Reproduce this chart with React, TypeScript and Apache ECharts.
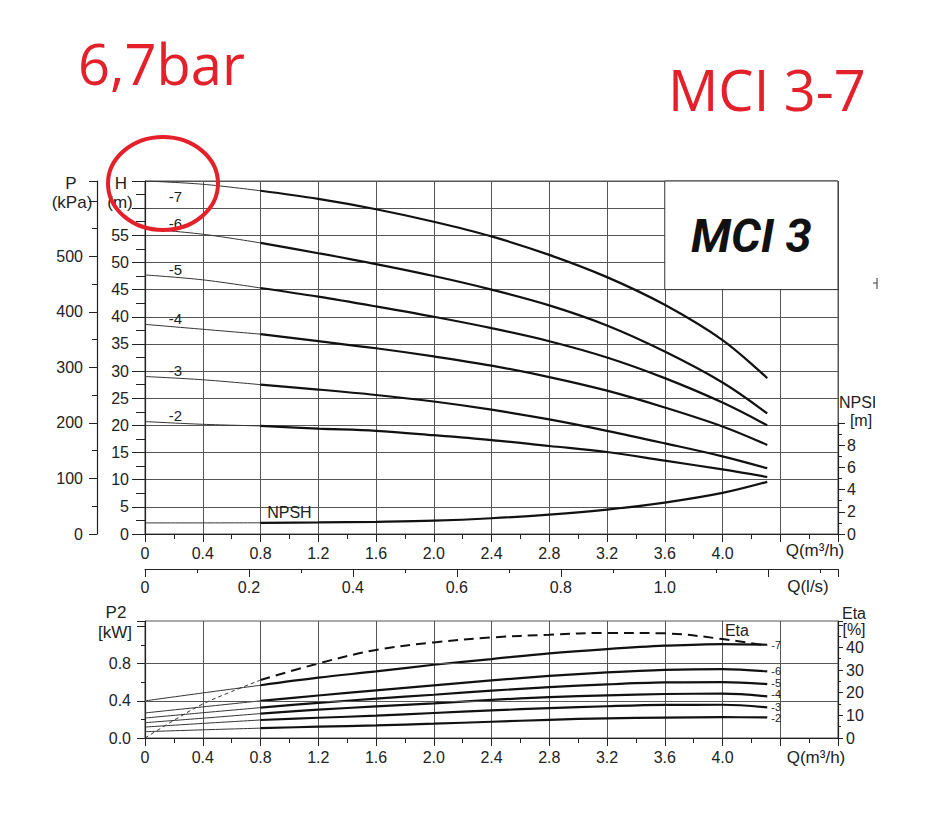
import React, { useEffect, useRef } from 'react';
import * as echarts from 'echarts';

// ---------- data ----------
const Q = [0, 0.4, 0.8, 1.2, 1.6, 2.0, 2.4, 2.8, 3.2, 3.6, 4.0, 4.31];
const THIN_END = 2; // index of Q = 0.8 (thin part before, thick after)
const STAGES = ['-2', '-3', '-4', '-5', '-6', '-7'];

const H_2 = [20.7, 20.2, 19.9, 19.4, 19.0, 18.2, 17.3, 16.2, 15.1, 13.5, 11.9, 10.5];
const H_3 = [29.0, 28.4, 27.5, 26.6, 25.6, 24.4, 22.9, 21.1, 19.0, 16.7, 14.3, 12.1];
const H_4 = [38.6, 37.7, 36.8, 35.5, 34.2, 32.7, 31.0, 28.9, 26.4, 23.3, 19.8, 16.4];
const H_5 = [47.7, 46.8, 45.3, 43.7, 41.9, 40.0, 37.9, 35.5, 32.5, 28.7, 24.2, 20.0];
const H_6 = [56.2, 55.2, 53.6, 51.7, 49.7, 47.5, 45.0, 42.1, 38.4, 33.6, 27.9, 22.2];
const H_7 = [65.0, 64.4, 63.2, 61.7, 59.8, 57.5, 54.8, 51.4, 47.3, 42.2, 35.7, 28.7];
const HEAD = [H_2, H_3, H_4, H_5, H_6, H_7];

const NPSH = [1.0, 1.0, 1.01, 1.04, 1.10, 1.20, 1.42, 1.75, 2.20, 2.83, 3.70, 4.70];

const P2_2 = [0.068, 0.088, 0.106, 0.122, 0.136, 0.154, 0.175, 0.196, 0.212, 0.219, 0.224, 0.222];
const P2_3 = [0.118, 0.157, 0.194, 0.218, 0.240, 0.269, 0.297, 0.322, 0.342, 0.356, 0.358, 0.329];
const P2_4 = [0.165, 0.213, 0.263, 0.305, 0.340, 0.373, 0.410, 0.440, 0.460, 0.474, 0.477, 0.448];
const P2_5 = [0.215, 0.272, 0.327, 0.378, 0.423, 0.466, 0.510, 0.547, 0.577, 0.598, 0.602, 0.581];
const P2_6 = [0.270, 0.335, 0.400, 0.458, 0.512, 0.566, 0.620, 0.668, 0.706, 0.733, 0.742, 0.717];
const P2_7 = [0.400, 0.485, 0.568, 0.650, 0.717, 0.789, 0.850, 0.912, 0.958, 0.994, 1.012, 1.004];
const POWER = [P2_2, P2_3, P2_4, P2_5, P2_6, P2_7];

const Q_ETA = [0, 0.2, 0.4, 0.6, 0.8, 1.2, 1.6, 2.0, 2.4, 2.8, 3.2, 3.6, 4.0, 4.31];
const ETA_THIN_END = 4;
const ETA = [0, 7.8, 15.0, 20.5, 25.6, 32.9, 38.9, 42.2, 44.4, 45.6, 46.4, 46.2, 43.7, 40.7];

const Q_LABELS = ['0', '0.4', '0.8', '1.2', '1.6', '2.0', '2.4', '2.8', '3.2', '3.6', '4.0'];
const LS_LABELS = ['0', '0.2', '0.4', '0.6', '0.8', '1.0'];
const H_LABELS = ['0', '5', '10', '15', '20', '25', '30', '35', '40', '45', '50', '55'];
const P_LABELS = ['0', '100', '200', '300', '400', '500'];
const NPSH_LABELS = ['0', '2', '4', '6', '8'];
const P2_LABELS = ['0.0', '0.4', '0.8'];
const ETA_LABELS = ['0', '10', '20', '30', '40'];
const P2_GRID = [0.4, 0.8];
const BOX_Q = [3.6, 4.8];
const BOX_H = [45, 65];

// ---------- helpers ----------
const FONT = '"Liberation Sans", Arial, sans-serif';
const AX = '#222';
const GRIDC = '#555';
const RED = '#e4202a';
const SMOOTH = 0.35;
const END_LABEL_DY: Record<string, number> = { '-2': 0.5, '-3': -0.5, '-4': -2.5, '-5': -1, '-6': 0, '-7': 0 };

const fmtQ = (v: number) => (Math.abs(v) < 1e-9 ? '0' : v.toFixed(1));
const pick = (labels: string[], s: string) => (labels.includes(s) ? s : '');

const interp = (xs: number[], ys: number[], x: number) => {
  for (let i = 0; i < xs.length - 1; i++) {
    if (x >= xs[i] && x <= xs[i + 1]) {
      const t = (x - xs[i]) / (xs[i + 1] - xs[i]);
      return ys[i] + t * (ys[i + 1] - ys[i]);
    }
  }
  return ys[ys.length - 1];
};

const label = (fontSize = 16) => ({ fontSize, color: AX, fontFamily: FONT });

const splitCurve = (
  name: string, xs: number[], ys: number[], split: number, xi: number, yi: number,
  thinStyle: any, thickStyle: any, extraThin: any = {}, extraThick: any = {}
) => [
  {
    type: 'line', name: name + ' (a)', xAxisIndex: xi, yAxisIndex: yi,
    data: xs.slice(0, split + 1).map((x, i) => [x, ys[i]]),
    symbol: 'none', smooth: SMOOTH, silent: true, lineStyle: thinStyle, ...extraThin,
  },
  {
    type: 'line', name, xAxisIndex: xi, yAxisIndex: yi,
    data: xs.slice(split).map((x, i) => [x, ys[split + i]]),
    symbol: 'none', smooth: SMOOTH, silent: true, lineStyle: thickStyle, ...extraThick,
  },
];

const THIN = { width: 1, color: '#333' };
const THICK = { width: 2.2, color: '#111' };

const xAxisBase = (gridIndex: number) => ({
  gridIndex, type: 'value', min: 0, max: 4.8, interval: 0.4,
  axisLine: { show: true, onZero: false, lineStyle: { color: AX, width: 1.2 } },
  axisTick: { show: true, length: 8, lineStyle: { color: AX } },
  minorTick: { show: true, splitNumber: 2, length: 5, lineStyle: { color: AX } },
  axisLabel: { ...label(), margin: 11, formatter: (v: number) => pick(Q_LABELS, fmtQ(v)) },
  splitLine: { show: true, lineStyle: { color: GRIDC, width: 1 } },
});

const yAxisBase = (gridIndex: number, position: string, min: number, max: number, interval: number,
  tick: number, minor: number, margin: number, labels: string[], fmt: (v: number) => string, extra: any = {}) => ({
  gridIndex, type: 'value', position, min, max, interval,
  axisLine: { show: true, onZero: false, lineStyle: { color: AX, width: 1.2 } },
  axisTick: { show: true, length: tick, lineStyle: { color: AX } },
  minorTick: { show: true, splitNumber: 2, length: minor, lineStyle: { color: AX } },
  axisLabel: { ...label(), margin, formatter: (v: number) => pick(labels, fmt(v)) },
  splitLine: { show: false },
  ...extra,
});

export default function App() {
  const ref = useRef<HTMLDivElement>(null);

  useEffect(() => {
    if (!ref.current) return;
    const chart = echarts.init(ref.current, null, { renderer: 'svg' });

    const series: any[] = [];
    // head curves
    HEAD.forEach((h, i) => {
      const extra = i === HEAD.length - 1 ? {
        markArea: {
          silent: true,
          itemStyle: { color: '#fff', borderColor: '#333', borderWidth: 1 },
          label: {
            show: true, position: 'inside', formatter: 'MCI 3', fontSize: 47,
            fontWeight: 'bold', fontStyle: 'italic', color: '#111', fontFamily: 'Roboto, "Open Sans", sans-serif',
          },
          data: [[{ coord: [BOX_Q[0], BOX_H[0]] }, { coord: [BOX_Q[1], BOX_H[1]] }]],
        },
      } : {};
      series.push(...splitCurve('H ' + STAGES[i], Q, h, THIN_END, 0, 0, THIN, THICK, {}, extra));
    });
    // NPSH
    series.push(...splitCurve('NPSH', Q, NPSH, THIN_END, 2, 2, THIN, THICK));
    // P2 curves
    POWER.forEach((p, i) => {
      const extraThin = i === 0 ? {
        markLine: {
          silent: true, symbol: 'none', label: { show: false },
          lineStyle: { color: GRIDC, width: 1, type: 'solid' },
          data: P2_GRID.map((v) => ({ yAxis: v })),
        },
      } : {};
      series.push(...splitCurve('P2 ' + STAGES[i], Q, p, THIN_END, 3, 3, THIN, THICK, extraThin, {
        endLabel: {
          show: true, formatter: STAGES[i], fontSize: 11, lineHeight: 10, color: AX, fontFamily: FONT,
          distance: 4, offset: [0, END_LABEL_DY[STAGES[i]]],
        },
      }));
    });
    // Eta
    series.push(...splitCurve('Eta', Q_ETA, ETA, ETA_THIN_END, 3, 4,
      { width: 1, color: '#333', type: [4, 3] }, { width: 2, color: '#111', type: [10, 6] }));

    const option: any = {
      animation: false,
      backgroundColor: '#fff',
      grid: [
        { left: 145, top: 181, width: 693, height: 353, show: true, borderColor: GRIDC, borderWidth: 1, containLabel: false, outerBoundsMode: 'none' },
        { left: 145, top: 423, width: 693, height: 111, containLabel: false, outerBoundsMode: 'none' },
        { left: 145, top: 621, width: 693, height: 117, show: true, borderColor: GRIDC, borderWidth: 1, containLabel: false, outerBoundsMode: 'none' },
      ],
      xAxis: [
        xAxisBase(0),
        {
          gridIndex: 0, type: 'value', position: 'bottom', offset: 35, min: 0, max: 4.8 / 3.6, interval: 0.2,
          axisLine: { show: true, onZero: false, lineStyle: { color: AX, width: 1.2 } },
          axisTick: { show: true, length: 8, lineStyle: { color: AX } },
          minorTick: { show: true, splitNumber: 2, length: 4, lineStyle: { color: AX } },
          axisLabel: { ...label(), margin: 10, formatter: (v: number) => pick(LS_LABELS, fmtQ(v)) },
          splitLine: { show: false },
        },
        { gridIndex: 1, type: 'value', min: 0, max: 4.8, show: false },
        xAxisBase(2),
      ],
      yAxis: [
        yAxisBase(0, 'left', 0, 65, 5, 13, 9, 16, H_LABELS, (v) => String(v),
          { splitLine: { show: true, lineStyle: { color: GRIDC, width: 1 } } }),
        yAxisBase(0, 'left', 0, 635.6, 100, 8, 5, 14, P_LABELS, (v) => String(v), { offset: 48 }),
        yAxisBase(1, 'right', 0, 10, 2, 7, 4, 9, NPSH_LABELS, (v) => String(v)),
        yAxisBase(2, 'left', 0, 1.26, 0.4, 8, 4, 14, P2_LABELS, (v) => v.toFixed(1)),
        yAxisBase(2, 'right', 0, 51.66, 10, 5, 3, 8, ETA_LABELS, (v) => String(v)),
      ],
      series,
    };
    chart.setOption(option);

    const px = (finder: any, pt: number[]) => chart.convertToPixel(finder, pt) as unknown as number[];
    const txt = (text: string, x: number, y: number, size = 17, align = 'center', extra: any = {}) => ({
      type: 'text', x, y, z: 100,
      style: {
        text, fill: AX, fontSize: size, fontFamily: FONT,
        align, textAlign: align, verticalAlign: 'middle', textVerticalAlign: 'middle', ...extra,
      },
    });

    const graphics: any[] = [
      txt('6,7bar', 78, 63, 56, 'left', { fill: RED, fontFamily: '"Open Sans", sans-serif' }),
      txt('MCI 3-7', 668, 89, 56, 'left', { fill: RED, fontFamily: '"Open Sans", sans-serif' }),
      {
        type: 'ellipse', z: 110, shape: { cx: 163, cy: 183.5, rx: 55, ry: 46.5 },
        style: { fill: 'none', stroke: RED, lineWidth: 4 },
      },
      txt('P', 71, 183), txt('(kPa)', 72, 202),
      txt('H', 121, 183), txt('(m)', 120, 202),
      txt('NPSH', 839, 402, 16, 'left'),
      { type: 'rect', z: 101, shape: { x: 875, y: 392, width: 20, height: 18 }, style: { fill: '#fff' } },
      txt('[m]', 861, 420, 16),
      txt('Q(m³/h)', 815, 550, 17),
      txt('Q(l/s)', 808, 586, 17),
      txt('Q(m³/h)', 816, 757, 17),
      txt('P2', 116, 612), txt('[kW]', 115, 632),
      txt('Eta', 854, 613, 16), txt('[%]', 854, 629.5, 16),
      { type: 'line', z: 100, shape: { x1: 873, y1: 283, x2: 877, y2: 283 }, style: { stroke: '#333', lineWidth: 1 } },
      { type: 'line', z: 100, shape: { x1: 877, y1: 278, x2: 877, y2: 289 }, style: { stroke: '#333', lineWidth: 1 } },
    ];

    // stage labels on head curves
    STAGES.forEach((s, i) => {
      const q = 0.21;
      const p = px({ xAxisIndex: 0, yAxisIndex: 0 }, [q, interp(Q, HEAD[i], q)]);
      graphics.push(txt(s, p[0], p[1] + (s === '-7' ? 14 : -8), 15));
    });
    // NPSH curve label
    {
      const q = 1.0;
      const p = px({ xAxisIndex: 2, yAxisIndex: 2 }, [q, interp(Q, NPSH, q)]);
      graphics.push(txt('NPSH', p[0], p[1] - 10, 16));
    }
    // Eta curve label
    {
      const q = 4.1;
      const p = px({ xAxisIndex: 3, yAxisIndex: 4 }, [q, interp(Q_ETA, ETA, q)]);
      graphics.push(txt('Eta', p[0], p[1] - 11, 16));
    }

    chart.setOption({ graphic: graphics });

    return () => chart.dispose();
  }, []);

  return (
    <div
      ref={ref}
      style={{ position: 'absolute', left: 0, top: 0, width: 928, height: 830, background: '#fff' }}
    />
  );
}
